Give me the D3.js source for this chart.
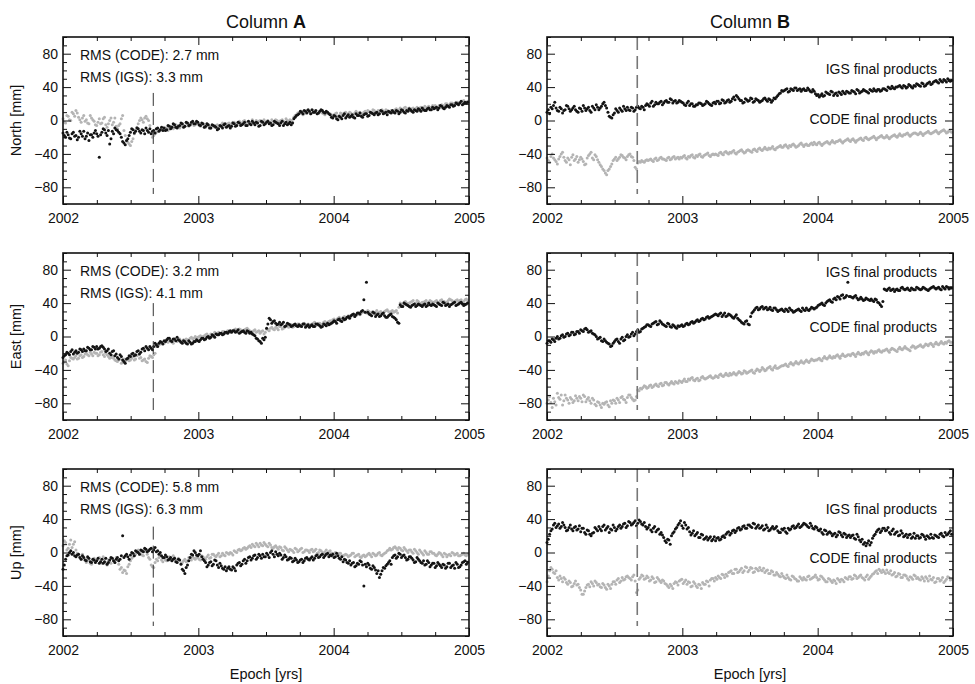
<!DOCTYPE html>
<html>
<head>
<meta charset="utf-8">
<script src="https://cdn.jsdelivr.net/npm/d3@7"></script>
<style>
  body { margin: 0; background: #fff; }
  svg { font-family: "Liberation Sans", Arial, Helvetica, sans-serif; }
</style>
</head>
<body>
<script>
// values: weekly samples from 2002.0 (157 per series)
// plus a mid-week sample between each pair (156 per series)
const startEpoch = 2002.0;
const stepDays = 7;
const midOffsetDays = 3.5;
const jumpEpoch = 2002.667;

const years = [2002, 2003, 2004, 2005];
const yTicks = [-80, -40, 0, 40, 80];
const components = ['North', 'East', 'Up'];
const columns = ['A', 'B'];
const rmsCode = ['2.7', '3.2', '5.8'];
const rmsIgs = ['3.3', '4.1', '6.3'];

// Column A, North
const northA_igs = [
  -15,-20,-17,-22,-14,-18,-20,-16,-13,-19,-24,-17,-15,
  -16,-44,-14,-11,-18,-28,-13,-9,-12,-16,-25,-29,-22,
  -14,-11,-13,-10,-15,-12,-9,-14,-16,-12,-10,-13,-8,
  -9,-11,-7,-8,-5,-9,-6,-4,-7,-3,-5,-1,-4,
  -2,-6,-4,-7,-5,-9,-6,-8,-10,-7,-5,-8,-6,
  -7,-4,-6,-3,-5,-2,-6,-4,-1,-5,-3,-6,-2,
  -4,-1,-3,-5,-2,-4,-3,-6,-2,-4,-5,2,6,
  8,10,12,9,11,13,10,8,11,12,9,10,7,
  3,5,1,4,6,3,7,5,4,8,6,5,7,
  8,6,9,7,10,8,11,9,7,10,12,9,11,
  10,12,9,11,13,10,12,14,11,13,12,15,13,
  14,16,15,17,14,18,16,19,18,20,21,19,22,
  22
];
const northA_igs_mid = [
  -18,-14,-21,-16,-19,-23,-13,-19,-22,-15,-17,-20,-12,
  -19,-17,-10,-15,-12,-22,-16,-11,-14,-20,-27,-24,-18,
  -10,-15,-9,-13,-11,-16,-12,-10,-13,-15,-9,-11,-12,
  -12,-6,-10,-4,-8,-7,-3,-8,-2,-6,-2,-4,-1,
  -5,-3,-8,-4,-9,-5,-7,-11,-6,-9,-4,-7,-9,
  -3,-7,-2,-6,-4,-6,-1,-5,-3,-2,-7,-1,-5,
  -2,-4,-6,-1,-3,-6,-1,-4,-5,-2,-3,4,7,
  11,8,11,13,8,10,12,9,13,10,11,8,4,
  6,2,5,2,8,5,4,7,3,6,9,4,8,
  5,10,8,9,7,12,8,10,11,9,10,12,8,
  13,10,12,14,11,13,11,13,15,12,14,13,16,
  15,13,18,15,16,17,19,17,21,19,23,20,21
];
const northA_code = [
  2,-3,5,0,8,12,4,-2,6,1,-4,3,-1,
  -6,2,-3,4,-8,0,-5,3,-10,-4,6,-18,-26,
  -30,-22,-12,-4,3,-2,5,0,-15,-18,-14,-12,-10,
  -11,-9,-10,-7,-8,-6,-9,-5,-7,-4,-6,-3,-5,
  -4,-7,-5,-8,-6,-9,-7,-6,-8,-5,-4,-6,-3,
  -4,-2,-5,-1,-3,0,-2,-4,1,-2,-3,0,-1,
  -2,0,-3,-1,1,-2,0,-1,2,-1,0,4,7,
  9,11,8,12,10,9,11,8,10,9,7,10,8,
  6,8,5,9,7,10,8,9,7,11,9,8,10,
  9,11,10,12,9,11,13,10,12,11,10,13,12,
  15,13,16,14,12,15,14,13,16,15,14,17,16,
  17,16,18,19,17,20,19,21,20,22,21,23,22,
  23
];
const northA_code_mid = [
  -2,6,1,10,5,9,1,3,-1,-3,6,1,-5,
  -2,-4,2,-5,-4,3,-2,-7,-6,2,-12,-24,-28,
  -25,-16,-8,0,1,3,2,-6,-20,-16,-13,-11,-8,
  -9,-12,-7,-10,-5,-8,-7,-6,-3,-7,-4,-6,-2,
  -6,-5,-8,-4,-7,-6,-8,-5,-7,-3,-7,-4,-5,
  -2,-4,-2,-4,-1,-3,-1,-2,-3,0,-1,-2,1,
  -1,-2,1,-3,0,-1,1,-2,0,1,-2,6,9,
  10,7,10,11,8,12,10,9,12,8,9,8,7,
  7,9,6,8,9,7,10,6,9,8,10,7,11,
  12,9,13,10,12,10,11,13,10,12,11,14,13,
  12,15,13,15,14,13,16,15,14,17,16,15,18,
  18,15,17,18,20,18,21,20,22,21,22,24,21
];
// Column B, North
const northB_igs = [
  10,8,14,22,12,16,9,13,17,11,15,13,10,
  14,18,12,16,10,15,19,13,17,22,15,5,3,
  9,12,15,11,14,16,12,15,13,17,14,16,18,
  19,21,17,22,20,23,21,24,22,25,23,21,24,
  22,19,21,18,20,17,19,21,18,20,22,19,21,
  20,23,21,24,22,25,23,28,30,26,24,22,25,
  24,26,23,25,22,24,27,23,25,24,26,30,33,
  35,37,34,38,36,39,37,35,38,36,37,34,35,
  30,28,32,30,33,31,34,32,30,33,35,32,34,
  33,35,32,36,34,37,35,33,36,38,35,37,36,
  38,36,39,41,38,40,42,39,41,40,42,39,41,
  43,41,44,42,45,43,46,48,45,47,49,46,48,
  48
];
const northB_igs_mid = [
  13,16,18,15,11,14,12,18,14,13,17,11,15,
  11,15,14,12,17,13,16,15,20,18,10,4,7,
  14,10,13,17,12,13,16,11,16,15,17,13,20,
  17,23,19,20,22,19,23,22,26,21,24,22,23,
  21,18,23,20,17,19,21,20,19,23,20,18,22,
  23,20,25,21,24,22,26,25,28,24,21,26,23,
  27,22,26,24,23,26,25,26,22,27,28,32,36,
  36,38,35,37,39,36,38,37,36,39,35,37,32,
  31,30,29,34,32,35,30,33,34,31,33,35,33,
  36,34,37,33,35,36,34,37,35,36,37,35,38,
  37,40,38,39,40,41,40,42,39,43,40,42,44,
  42,45,41,44,46,44,47,46,49,46,48,50,47
];
const northB_code = [
  -45,-50,-40,-47,-52,-43,-38,-48,-45,-53,-41,-46,-50,
  -44,-49,-52,-42,-38,-47,-43,-50,-55,-60,-65,-58,-52,
  -46,-48,-44,-42,-45,-43,-40,-44,-56,-51,-50,-49,-48,
  -48,-46,-49,-45,-47,-44,-46,-48,-44,-46,-43,-45,-46,
  -45,-42,-46,-44,-41,-45,-43,-40,-44,-41,-39,-43,-40,
  -40,-42,-38,-41,-37,-40,-39,-36,-40,-37,-35,-39,-36,
  -36,-38,-34,-37,-33,-36,-32,-35,-34,-31,-35,-32,-30,
  -32,-29,-33,-31,-28,-32,-30,-27,-31,-28,-30,-27,-26,
  -29,-26,-30,-27,-25,-28,-24,-27,-25,-23,-27,-24,-22,
  -25,-22,-26,-23,-21,-24,-20,-23,-21,-19,-23,-20,-18,
  -21,-18,-22,-19,-17,-20,-16,-19,-17,-15,-19,-16,-15,
  -17,-14,-18,-15,-13,-16,-14,-12,-16,-13,-11,-15,-12,
  -14
];
const northB_code_mid = [
  -48,-43,-45,-49,-46,-40,-44,-50,-47,-44,-48,-43,-47,
  -46,-53,-45,-40,-45,-41,-47,-53,-58,-63,-60,-55,-48,
  -44,-46,-41,-44,-47,-41,-43,-48,-58,-49,-48,-50,-47,
  -47,-48,-46,-48,-45,-46,-47,-45,-47,-44,-46,-44,-44,
  -43,-45,-43,-42,-44,-42,-41,-43,-42,-40,-42,-41,-41,
  -41,-39,-40,-38,-39,-38,-37,-39,-38,-36,-37,-38,-35,
  -37,-35,-36,-34,-35,-34,-34,-33,-33,-34,-33,-31,-32,
  -30,-31,-30,-29,-30,-31,-28,-29,-29,-30,-28,-29,-28,
  -27,-28,-28,-26,-27,-26,-26,-25,-24,-25,-25,-23,-24,
  -23,-24,-24,-22,-23,-21,-22,-22,-20,-21,-21,-19,-20,
  -20,-20,-20,-18,-19,-18,-18,-17,-16,-17,-17,-15,-16,
  -16,-16,-16,-14,-15,-15,-13,-14,-14,-12,-13,-14,-13
];
// Column A, East
const eastA_igs = [
  -25,-22,-20,-18,-21,-17,-19,-16,-15,-17,-14,-16,-13,
  -12,-14,-11,-15,-17,-20,-18,-23,-25,-22,-28,-32,-26,
  -24,-20,-22,-17,-19,-14,-12,-16,-14,-12,-10,-8,-7,
  -5,-4,-2,-6,-3,-1,-5,-8,-6,-9,-7,-8,-6,
  -5,-4,-2,-3,0,-1,1,3,2,4,3,5,6,
  5,7,6,4,6,5,7,4,3,1,-3,-6,-2,
  -1,15,20,18,16,15,14,17,13,15,12,14,13,
  14,12,15,13,11,14,12,15,13,12,14,16,15,
  17,18,20,19,22,21,24,25,27,26,28,30,44,
  65,27,25,28,26,24,27,25,23,26,24,22,17,
  38,36,39,37,35,38,36,39,37,38,36,40,37,
  38,36,39,37,40,38,36,39,41,38,40,39,38,
  40
];
const eastA_igs_mid = [
  -23,-19,-22,-16,-19,-20,-15,-18,-17,-13,-16,-12,-15,
  -15,-12,-13,-18,-15,-22,-17,-21,-27,-24,-30,-27,-23,
  -21,-23,-18,-21,-15,-17,-14,-12,-16,-8,-12,-6,-9,
  -6,-2,-5,-3,-5,-4,-7,-5,-8,-5,-9,-6,-4,
  -6,-2,-4,-1,-2,2,-1,2,4,2,5,4,7,
  7,5,8,5,7,4,6,5,2,-2,-5,-8,-4,
  10,22,16,19,14,17,15,12,16,14,13,15,12,
  13,15,11,14,13,12,15,14,11,15,13,14,16,
  19,16,21,18,20,23,22,26,24,28,27,31,29,
  29,26,29,24,27,25,28,23,25,27,23,20,16,
  36,40,38,36,37,39,37,38,36,39,37,38,39,
  37,40,38,41,37,39,38,40,37,39,41,37,39
];
const eastA_code = [
  -32,-28,-35,-25,-27,-23,-26,-22,-24,-20,-23,-21,-19,
  -20,-22,-18,-24,-22,-26,-23,-28,-30,-27,-31,-29,-26,
  -28,-24,-27,-22,-25,-28,-30,-26,-24,-22,-12,-10,-8,
  -8,-6,-5,-7,-4,-6,-3,-5,-7,-4,-2,-3,0,
  -1,1,0,2,1,3,2,4,5,3,6,5,7,
  6,8,7,9,6,8,10,7,5,8,6,4,7,
  5,8,10,9,11,8,12,10,13,11,14,12,13,
  15,13,16,14,12,15,17,14,16,15,18,17,19,
  20,19,22,21,23,22,25,24,26,25,27,28,30,
  28,30,29,27,31,29,28,30,32,29,31,30,28,
  40,38,42,39,41,43,40,42,39,41,43,40,42,
  41,43,40,44,42,41,45,43,42,44,43,41,44,
  43
];
const eastA_code_mid = [
  -30,-33,-29,-26,-25,-27,-23,-25,-21,-22,-19,-23,-20,
  -23,-19,-22,-20,-24,-25,-26,-29,-28,-32,-27,-28,-29,
  -26,-28,-23,-26,-29,-27,-31,-23,-25,-20,-10,-9,-7,
  -5,-7,-4,-8,-5,-3,-6,-4,-3,-5,-1,-2,-2,
  0,-1,1,3,0,2,5,3,4,6,4,7,5,
  7,9,5,8,7,9,8,6,7,5,7,6,3,
  9,7,11,8,10,12,9,11,12,13,11,14,15,
  12,15,13,15,14,16,13,16,14,17,16,18,17,
  21,20,23,20,24,23,24,26,24,27,26,29,29,
  31,28,30,29,28,30,27,31,30,30,29,31,35,
  39,41,40,40,42,39,43,40,41,42,40,43,41,
  42,41,43,42,40,43,44,41,43,42,44,42,45
];
// Column B, East
const eastB_igs = [
  -8,-5,-3,-6,0,-2,2,0,4,2,5,3,6,
  8,6,10,5,7,3,0,-2,-5,-3,-7,-9,-11,
  -6,-3,-8,-1,-4,2,0,5,3,8,6,10,12,
  14,12,16,18,15,17,14,12,15,11,13,10,12,
  14,13,16,15,18,17,20,19,22,21,24,23,25,
  27,25,28,26,24,27,25,22,26,20,17,15,19,
  14,28,32,35,33,36,34,32,35,31,34,30,32,
  31,33,30,32,29,31,33,30,32,34,31,35,33,
  35,38,40,37,42,44,41,46,48,45,50,47,65,
  48,46,49,44,47,43,46,44,45,42,44,40,36,
  57,55,58,56,54,57,55,59,56,58,55,57,56,
  58,56,59,57,55,58,60,57,59,56,58,60,57,
  58
];
const eastB_igs_mid = [
  -5,-7,-4,-2,-3,1,-1,3,1,5,2,6,4,
  7,9,8,6,4,2,-3,-1,-6,-5,-8,-12,-8,
  -4,-6,-3,-5,0,-1,3,1,6,5,9,11,14,
  13,15,17,14,19,15,13,16,12,14,11,13,13,
  12,15,14,17,16,19,18,21,20,23,22,24,26,
  26,27,24,28,25,26,23,24,22,19,16,18,15,
  24,30,34,32,35,33,35,33,32,34,32,31,33,
  30,32,34,31,30,32,31,34,31,32,33,34,34,
  37,39,38,40,43,42,45,44,47,49,46,49,48,
  47,48,46,45,45,44,45,43,43,45,41,38,42,
  56,57,55,57,56,55,58,57,57,56,58,56,59,
  57,57,58,56,57,59,58,58,57,60,57,59,58
];
const eastB_code = [
  -80,-72,-85,-78,-68,-75,-82,-70,-76,-73,-79,-71,-77,
  -74,-70,-78,-73,-80,-76,-83,-79,-85,-81,-78,-84,-80,
  -77,-74,-79,-72,-76,-73,-70,-75,-76,-64,-62,-61,-60,
  -61,-58,-60,-57,-60,-56,-58,-55,-58,-54,-57,-55,-53,
  -55,-51,-54,-52,-49,-53,-50,-52,-48,-51,-49,-47,-50,
  -47,-49,-45,-48,-44,-47,-46,-43,-46,-42,-45,-41,-44,
  -42,-40,-44,-39,-42,-37,-41,-38,-36,-40,-35,-38,-36,
  -35,-33,-36,-31,-34,-30,-33,-29,-32,-28,-31,-27,-29,
  -28,-26,-29,-24,-27,-23,-26,-25,-22,-26,-21,-24,-22,
  -23,-20,-24,-19,-22,-21,-18,-22,-17,-20,-19,-16,-19,
  -17,-15,-19,-14,-16,-18,-13,-16,-12,-15,-17,-11,-14,
  -12,-10,-13,-9,-11,-8,-12,-7,-10,-6,-9,-8,-5,
  -7
];
const eastB_code_mid = [
  -76,-79,-74,-82,-73,-70,-77,-74,-80,-75,-77,-74,-72,
  -78,-72,-75,-77,-74,-81,-78,-82,-80,-79,-82,-77,-76,
  -80,-76,-73,-75,-79,-70,-73,-77,-72,-65,-63,-59,-62,
  -59,-61,-58,-59,-57,-59,-55,-57,-56,-56,-54,-56,-54,
  -53,-54,-51,-50,-52,-51,-53,-49,-50,-50,-48,-49,-49,
  -48,-46,-47,-46,-46,-44,-45,-45,-44,-43,-44,-42,-43,
  -41,-43,-41,-40,-40,-39,-40,-37,-39,-37,-38,-37,-35,
  -34,-35,-33,-33,-32,-32,-31,-31,-30,-30,-29,-28,-28,
  -27,-28,-26,-26,-25,-25,-24,-23,-24,-23,-23,-23,-22,
  -21,-22,-21,-21,-20,-19,-20,-19,-18,-18,-17,-18,-17,
  -16,-17,-16,-15,-17,-15,-15,-14,-14,-16,-13,-12,-13,
  -11,-12,-11,-10,-9,-10,-9,-9,-8,-8,-7,-6,-7
];
// Column A, Up
const upA_igs = [
  -20,-8,-3,2,0,-5,-2,-8,-6,-10,-7,-12,-9,
  -10,-13,-8,-11,-14,-9,-7,-12,-6,-8,20,-4,-5,
  -3,-1,2,0,3,1,4,2,5,3,1,-2,-4,
  -6,-5,-8,-10,-7,-12,-9,-20,-25,-15,-6,-3,0,
  -4,2,-8,-12,-15,-11,-14,-10,-18,-16,-20,-22,-17,
  -21,-19,-15,-12,-14,-8,-10,-5,-7,-3,-6,-4,-2,
  -5,-3,0,-2,1,-4,-3,-6,-5,-8,-7,-10,-9,
  -11,-8,-10,-6,-9,-5,-7,-3,-5,-2,-4,-1,-3,
  -2,-5,-4,-8,-11,-9,-13,-15,-12,-16,-14,-11,-40,
  -17,-15,-20,-18,-25,-30,-22,-19,-14,-10,-6,-3,-5,
  -2,-4,-6,-8,-5,-9,-11,-8,-12,-10,-14,-12,-15,
  -13,-16,-14,-18,-15,-17,-13,-16,-19,-14,-17,-12,-10,
  -12
];
const upA_igs_mid = [
  -15,-4,0,-2,-4,-3,-6,-4,-9,-5,-11,-8,-12,
  -7,-11,-13,-7,-12,-6,-10,-8,-10,-4,-6,-2,-8,
  0,-4,1,-2,2,5,1,4,1,6,2,0,-6,
  -3,-9,-6,-8,-11,-8,-14,-22,-18,-10,-2,2,-3,
  -2,-5,-10,-17,-12,-16,-9,-15,-13,-19,-17,-19,-20,
  -17,-22,-13,-16,-10,-13,-6,-9,-4,-8,-2,-7,-5,
  -1,-6,2,-5,-2,-1,-8,-3,-9,-6,-11,-7,-12,
  -9,-12,-7,-8,-7,-9,-4,-6,-3,-6,-2,-5,-4,
  -6,-1,-7,-5,-8,-12,-10,-13,-17,-13,-10,-15,-14,
  -13,-19,-16,-21,-22,-26,-18,-16,-12,-14,-4,-7,-1,
  -6,-3,-9,-5,-7,-12,-6,-10,-13,-15,-10,-17,-13,
  -18,-12,-16,-14,-19,-13,-18,-15,-12,-18,-15,-11,-14
];
const upA_code = [
  8,12,5,15,10,3,-2,-8,-5,-12,-9,-14,-7,
  -10,-6,-13,-8,-15,-11,-7,-12,-9,-20,-24,-22,-17,
  -10,-5,-2,3,0,-4,1,-6,-15,-18,-8,-6,-9,
  -7,-10,-5,-8,-6,-11,-9,-12,-8,-10,-7,-5,-8,
  -6,-9,-5,-8,-3,-6,-2,-5,-1,-4,-3,0,-2,
  -1,2,0,4,3,6,5,8,10,7,9,11,8,
  10,7,9,5,8,4,6,2,5,1,3,0,4,
  2,5,1,3,0,4,2,-1,3,0,1,-2,2,
  -1,0,-3,-1,-4,-2,-5,-3,-1,-4,-2,-6,-3,
  -4,-1,-5,-2,-3,0,-4,-1,2,5,4,7,3,
  5,2,4,0,3,-1,2,-2,1,-3,0,-2,1,
  -1,-4,0,-3,-1,-5,-2,0,-3,-1,-4,-2,-3,
  -2
];
const upA_code_mid = [
  14,3,10,6,13,-1,-5,-2,-9,-7,-13,-10,-11,
  -8,-11,-5,-12,-9,-13,-10,-6,-14,-18,-21,-25,-14,
  -7,-3,0,-2,-3,3,-2,-8,-17,-12,-10,-4,-11,
  -9,-6,-9,-4,-9,-7,-13,-10,-11,-6,-9,-7,-6,
  -8,-4,-7,-5,-7,-2,-4,-3,-5,-1,-4,-1,0,
  -3,1,3,2,5,4,7,6,8,11,7,9,12,
  8,11,6,7,6,7,3,7,3,4,2,5,1,
  4,0,3,2,3,1,4,0,2,-1,3,1,-1,
  -2,-2,-1,-4,-3,-3,-4,-1,-5,-3,-5,-4,-5,
  -2,-3,-1,-4,-1,-3,-2,0,3,3,6,5,6,
  3,6,2,3,1,4,0,3,-1,2,-2,1,-1,
  -3,-2,-1,-5,-2,-3,-4,-1,-2,-4,-3,-1,-4
];
// Column B, Up
const upB_igs = [
  12,22,28,35,32,29,36,30,27,33,26,31,28,
  25,29,22,26,20,24,28,31,26,33,29,24,27,
  30,28,33,31,35,32,36,34,38,35,37,33,31,
  30,27,29,25,28,24,18,12,15,20,25,30,35,
  32,36,28,25,23,20,24,18,21,17,15,19,16,
  14,18,16,20,22,25,23,27,26,30,28,32,29,
  33,30,34,31,29,32,28,30,27,31,29,26,24,
  27,25,29,28,32,30,34,31,35,33,30,32,28,
  30,26,24,27,22,25,20,23,21,24,19,22,20,
  18,21,16,19,13,10,8,14,12,20,25,28,26,
  29,27,24,26,22,25,21,23,20,18,22,19,17,
  20,18,21,16,19,22,17,20,18,23,19,21,24,
  22
];
const upB_igs_mid = [
  16,26,33,30,34,31,33,26,30,28,30,27,32,
  29,24,27,22,23,30,26,28,31,27,31,28,33,
  26,31,29,34,30,37,33,36,32,39,34,36,28,
  33,25,31,27,22,21,14,16,10,23,28,33,38,
  29,33,30,21,26,22,18,22,16,19,17,14,19,
  17,15,19,18,24,21,26,24,29,27,31,29,33,
  31,35,29,33,30,27,33,26,29,28,31,24,28,
  29,23,27,31,29,32,30,33,34,31,35,29,31,
  27,28,22,26,24,23,22,19,25,21,23,18,21,
  20,17,22,15,16,12,11,9,17,22,27,24,29,
  26,30,22,28,24,20,26,19,22,21,17,23,20,
  17,22,19,20,17,18,21,19,22,20,24,22,26
];
const upB_code = [
  -35,-22,-20,-25,-30,-28,-35,-32,-38,-36,-40,-34,-38,
  -45,-50,-42,-38,-35,-40,-36,-38,-42,-39,-44,-40,-38,
  -35,-33,-36,-30,-32,-28,-31,-29,-34,-45,-30,-28,-31,
  -30,-33,-31,-35,-32,-36,-34,-38,-42,-40,-37,-36,-34,
  -32,-35,-38,-36,-40,-37,-42,-39,-36,-38,-35,-33,-31,
  -30,-28,-31,-27,-26,-24,-22,-25,-20,-23,-19,-22,-18,
  -21,-19,-23,-20,-18,-22,-24,-21,-25,-23,-27,-26,-29,
  -28,-31,-30,-33,-29,-32,-34,-31,-30,-33,-28,-31,-29,
  -30,-32,-29,-33,-35,-32,-36,-34,-31,-35,-33,-30,-32,
  -29,-31,-28,-30,-27,-31,-29,-32,-28,-25,-22,-20,-24,
  -23,-21,-25,-27,-24,-28,-26,-30,-27,-31,-29,-32,-28,
  -30,-33,-31,-29,-34,-32,-30,-35,-31,-33,-36,-32,-30,
  -32
];
const upB_code_mid = [
  -28,-18,-24,-22,-33,-31,-30,-36,-34,-41,-37,-39,-42,
  -50,-46,-39,-41,-37,-34,-39,-41,-37,-42,-38,-43,-35,
  -38,-31,-34,-33,-29,-30,-33,-27,-48,-32,-27,-32,-28,
  -34,-29,-36,-30,-34,-33,-37,-40,-38,-43,-35,-39,-33,
  -37,-33,-35,-41,-35,-40,-38,-43,-38,-34,-40,-31,-34,
  -32,-30,-26,-30,-28,-23,-25,-20,-24,-21,-24,-17,-23,
  -18,-24,-19,-22,-21,-19,-22,-25,-22,-27,-24,-28,-25,
  -30,-27,-32,-28,-31,-34,-29,-33,-32,-29,-32,-30,-27,
  -33,-28,-31,-35,-31,-34,-33,-37,-33,-32,-35,-31,-29,
  -32,-27,-31,-28,-30,-33,-27,-30,-26,-23,-25,-22,-21,
  -25,-24,-22,-26,-29,-25,-30,-27,-28,-33,-30,-27,-31,
  -32,-29,-34,-31,-28,-33,-36,-31,-34,-30,-34,-29,-33
];

const panels = [
  { row: 0, col: 0, igs: [northA_igs, northA_igs_mid], code: [northA_code, northA_code_mid] },
  { row: 0, col: 1, igs: [northB_igs, northB_igs_mid], code: [northB_code, northB_code_mid] },
  { row: 1, col: 0, igs: [eastA_igs, eastA_igs_mid], code: [eastA_code, eastA_code_mid] },
  { row: 1, col: 1, igs: [eastB_igs, eastB_igs_mid], code: [eastB_code, eastB_code_mid] },
  { row: 2, col: 0, igs: [upA_igs, upA_igs_mid], code: [upA_code, upA_code_mid] },
  { row: 2, col: 1, igs: [upB_igs, upB_igs_mid], code: [upB_code, upB_code_mid] }
];

// layout
const W = 975, H = 684;
const colX = [63, 547], pw = 406;
const rowY = [37, 253, 469], ph = 167;
const labelMm = [[60, 0], [76, 10], [50, -8]];   // IGS / CODE label heights (mm) in column B
const dashTopA = [33, 40, 31];                   // dashed line top (mm) in column A

const svg = d3.select('body').append('svg')
  .attr('width', W)
  .attr('height', H);

const x = d3.scaleLinear().domain([2002, 2005]).range([0, pw]);
const y = d3.scaleLinear().domain([-100, 100]).range([ph, 0]);

// weekly + mid-week samples -> {t, v}
function points(pair) {
  const [weekly, mid] = pair;
  const a = weekly.map((v, i) => ({ t: startEpoch + i * stepDays / 365.25, v }));
  const b = mid.map((v, i) => ({ t: startEpoch + (i * stepDays + midOffsetDays) / 365.25, v }));
  return a.concat(b);
}

const minorX = d3.range(2002, 2005.001, 0.25).filter(v => !years.includes(v));
const minorY = d3.range(-100, 100.001, 10).filter(v => !yTicks.includes(v));

function tidy(g) {
  g.select('.domain').remove();
  g.selectAll('line').attr('stroke', '#111').attr('stroke-width', 1);
  g.selectAll('text').attr('fill', '#111').style('font-size', '14px').attr('font-family', null);
}

function drawPanel(p) {
  const g = svg.append('g').attr('transform', `translate(${colX[p.col]},${rowY[p.row]})`);

  // points: gray (CODE) under black (IGS)
  g.append('g').selectAll('circle')
    .data(points(p.code))
    .join('circle')
    .attr('cx', d => x(d.t))
    .attr('cy', d => y(d.v))
    .attr('r', 1.5)
    .attr('fill', '#b4b4b4');

  g.append('g').selectAll('circle')
    .data(points(p.igs))
    .join('circle')
    .attr('cx', d => x(d.t))
    .attr('cy', d => y(d.v))
    .attr('r', 1.5)
    .attr('fill', '#141414');

  // dashed epoch of the jump
  if (p.col === 0) {
    g.append('line')
      .attr('x1', x(jumpEpoch)).attr('x2', x(jumpEpoch))
      .attr('y1', y(dashTopA[p.row])).attr('y2', y(-88))
      .attr('stroke', '#333').attr('stroke-width', 1)
      .attr('stroke-dasharray', '13,6');
  } else {
    g.append('line')
      .attr('x1', x(jumpEpoch)).attr('x2', x(jumpEpoch))
      .attr('y1', y(100)).attr('y2', y(-88))
      .attr('stroke', '#777').attr('stroke-width', 1.6)
      .attr('stroke-dasharray', '13,6');
  }

  // axes, ticks pointing inward on all four sides
  g.append('g').attr('transform', `translate(0,${ph})`)
    .call(d3.axisBottom(x).tickValues(years).tickFormat(d3.format('d')).tickSize(-8).tickPadding(9))
    .call(tidy);
  g.append('g').attr('transform', `translate(0,${ph})`)
    .call(d3.axisBottom(x).tickValues(minorX).tickFormat('').tickSize(-4))
    .call(tidy);
  g.append('g')
    .call(d3.axisTop(x).tickValues(years).tickFormat('').tickSize(-8))
    .call(tidy);
  g.append('g')
    .call(d3.axisTop(x).tickValues(minorX).tickFormat('').tickSize(-4))
    .call(tidy);
  g.append('g')
    .call(d3.axisLeft(y).tickValues(yTicks).tickSize(-8).tickPadding(5))
    .call(tidy);
  g.append('g')
    .call(d3.axisLeft(y).tickValues(minorY).tickFormat('').tickSize(-4))
    .call(tidy);
  g.append('g').attr('transform', `translate(${pw},0)`)
    .call(d3.axisRight(y).tickValues(yTicks).tickFormat('').tickSize(-8))
    .call(tidy);
  g.append('g').attr('transform', `translate(${pw},0)`)
    .call(d3.axisRight(y).tickValues(minorY).tickFormat('').tickSize(-4))
    .call(tidy);

  g.append('rect')
    .attr('width', pw).attr('height', ph)
    .attr('fill', 'none')
    .attr('stroke', '#111').attr('stroke-width', 1.6);

  if (p.col === 0) {
    const t = g.append('g').attr('fill', '#111').style('font-size', '14px');
    t.append('text').attr('x', 17).attr('y', 23).text(`RMS (CODE): ${rmsCode[p.row]} mm`);
    t.append('text').attr('x', 17).attr('y', 45).text(`RMS (IGS): ${rmsIgs[p.row]} mm`);

    svg.append('text')
      .attr('transform', `translate(${colX[0] - 42},${rowY[p.row] + ph / 2}) rotate(-90)`)
      .attr('text-anchor', 'middle')
      .attr('fill', '#111')
      .style('font-size', '14.5px')
      .text(`${components[p.row]} [mm]`);
  } else {
    const t = g.append('g').attr('fill', '#111').style('font-size', '14px')
      .attr('text-anchor', 'end').attr('dominant-baseline', 'middle');
    t.append('text').attr('x', pw - 16).attr('y', y(labelMm[p.row][0])).text('IGS final products');
    t.append('text').attr('x', pw - 16).attr('y', y(labelMm[p.row][1])).text('CODE final products');
  }
}

panels.forEach(drawPanel);

// column titles and x-axis titles
columns.forEach((c, i) => {
  const title = svg.append('text')
    .attr('x', colX[i] + pw / 2)
    .attr('y', 28)
    .attr('text-anchor', 'middle')
    .attr('fill', '#111')
    .style('font-size', '18px');
  title.append('tspan').text('Column ');
  title.append('tspan').attr('font-weight', 'bold').text(c);

  svg.append('text')
    .attr('x', colX[i] + pw / 2)
    .attr('y', 679)
    .attr('text-anchor', 'middle')
    .attr('fill', '#111')
    .style('font-size', '14.5px')
    .text('Epoch [yrs]');
});
</script>
</body>
</html>
